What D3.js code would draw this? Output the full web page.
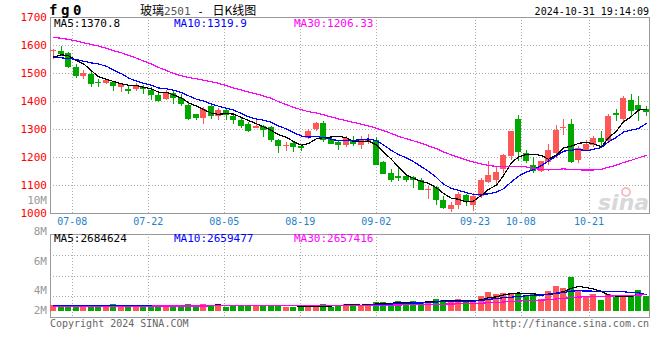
<!DOCTYPE html>
<html>
<head>
<meta charset="utf-8">
<script src="https://cdn.jsdelivr.net/npm/d3@7"></script>
<style>
  body { margin: 0; background: #fff; }
  text { font-family: "DejaVu Sans Mono", monospace; }
</style>
</head>
<body>
<div id="chart-container"></div>
<script>
const w = 660;
const h = 360;

const dates = [
  "07-03","07-04","07-05","07-08","07-09","07-10","07-11","07-12","07-15","07-16",
  "07-17","07-18","07-19","07-22","07-23","07-24","07-25","07-26","07-29","07-30",
  "07-31","08-01","08-02","08-05","08-06","08-07","08-08","08-09","08-12","08-13",
  "08-14","08-15","08-16","08-19","08-20","08-21","08-22","08-23","08-26","08-27",
  "08-28","08-29","08-30","09-02","09-03","09-04","09-05","09-06","09-09","09-10",
  "09-11","09-12","09-13","09-18","09-19","09-20","09-23","09-24","09-25","09-26",
  "09-27","09-30","10-08","10-09","10-10","10-11","10-14","10-15","10-16","10-17",
  "10-18","10-21","10-22","10-23","10-24","10-25","10-28","10-29","10-30","10-31"
];
const open = [
  1577,1580,1571,1521,1488,1497,1469,1466,1468,1450,
  1444,1443,1451,1438,1422,1408,1428,1411,1387,1354,
  1341,1381,1347,1369,1345,1331,1318,1302,1312,1306,
  1262,1238,1250,1238,1268,1301,1322,1264,1252,1244,
  1256,1243,1254,1262,1181,1144,1133,1133,1128,1119,
  1081,1094,1048,1014,1027,1064,1030,1062,1110,1119,
  1157,1202,1337,1213,1172,1151,1182,1214,1302,1319,
  1188,1226,1244,1268,1256,1357,1337,1405,1387,1372
];
const high = [
  1584,1595,1576,1532,1512,1504,1480,1479,1471,1466,
  1456,1466,1457,1449,1431,1438,1437,1426,1392,1355,
  1378,1384,1374,1372,1357,1338,1325,1339,1315,1310,
  1265,1255,1256,1248,1301,1324,1328,1274,1262,1275,
  1276,1276,1283,1270,1187,1158,1161,1136,1133,1126,
  1095,1097,1062,1038,1074,1069,1071,1126,1187,1165,
  1212,1292,1351,1226,1199,1184,1246,1315,1337,1337,
  1241,1262,1274,1294,1354,1371,1419,1426,1419,1383
];
const low = [
  1550,1562,1519,1481,1480,1451,1449,1459,1434,1431,
  1424,1434,1426,1405,1397,1405,1390,1383,1331,1333,
  1319,1337,1331,1331,1319,1304,1288,1302,1271,1252,
  1216,1220,1218,1220,1266,1292,1255,1246,1224,1234,
  1241,1230,1245,1172,1138,1109,1115,1109,1088,1082,
  1051,1027,1016,1002,1014,1024,1006,1054,1108,1105,
  1143,1190,1184,1179,1142,1146,1172,1198,1280,1178,
  1177,1220,1237,1234,1254,1330,1325,1348,1330,1348
];
const close = [
  1583,1569,1520,1491,1501,1459,1463,1474,1452,1459,
  1434,1458,1443,1422,1401,1431,1411,1388,1337,1341,
  1371,1345,1369,1350,1331,1309,1294,1309,1298,1262,
  1238,1243,1235,1232,1294,1322,1262,1248,1244,1268,
  1248,1264,1262,1173,1141,1119,1124,1119,1117,1083,
  1087,1045,1017,1029,1068,1038,1062,1118,1136,1145,
  1208,1292,1217,1184,1149,1184,1226,1295,1308,1182,
  1232,1246,1268,1252,1347,1349,1412,1364,1367,1362
];
const volume = [
  980000,700000,980000,980000,700000,980000,720000,750000,1150000,720000,
  700000,740000,700000,980000,720000,750000,700000,730000,1150000,700000,
  1150000,980000,980000,720000,980000,980000,740000,980000,980000,980000,
  960000,720000,700000,610000,720000,980000,1150000,700000,980000,1150000,
  980000,980000,1150000,1480000,1480000,1260000,1640000,1260000,1640000,1260000,
  1640000,1970000,1800000,1430000,1970000,1430000,1800000,2460000,3110000,2790000,
  2950000,2950000,2950000,2460000,2790000,1910000,3280000,4100000,3770000,5570000,
  3300000,2500000,2850000,1800000,2720000,2300000,2620000,2620000,3440000,2440000
];

const ma5Head = [1557, 1565, 1562, 1544];
const ma10Head = [1556, 1554, 1552, 1548, 1542, 1536, 1532, 1524, 1511];
const ma30Head = [
  1627,1624,1620,1614,1608,1602,1596,1588,1580,1572,
  1563,1553,1543,1532,1520,1509,1498,1490,1484,1479,
  1474,1469,1463,1455,1446,1439,1432,1425,1418
];
const vma5Head = [840000, 850000, 860000, 870000];
const vma10Head = [800000, 810000, 820000, 830000, 840000, 850000, 850000, 860000, 860000];
const vma30Head = [
  740000,745000,750000,755000,760000,765000,770000,775000,780000,785000,
  790000,795000,800000,800000,805000,810000,815000,820000,820000,825000,
  830000,835000,840000,840000,845000,850000,850000,855000,860000
];

const tickDates = ["07-08","07-22","08-05","08-19","09-02","09-23","10-08","10-21"];
const priceTicks = [1000,1100,1200,1300,1400,1500,1600,1700];
const volLabels = [10, 8, 6, 4, 2];
const maLast = ["1370.8", "1319.9", "1206.33"];
const volMaLast = ["2684624", "2659477", "2657416"];

const up = "#ff5656";
const down = "#00a800";
const maColors = ["#000000", "#0000ff", "#ff00ff"];

function movingAvg(values, n, head) {
  return values.map((v, i) => i < n - 1 ? head[i] : d3.mean(values.slice(i - n + 1, i + 1)));
}

const n = dates.length;
const priceMa = [
  movingAvg(close, 5, ma5Head),
  movingAvg(close, 10, ma10Head),
  movingAvg(close, 30, ma30Head)
];
const volMa = [
  movingAvg(volume, 5, vma5Head),
  movingAvg(volume, 10, vma10Head),
  movingAvg(volume, 30, vma30Head)
];

const svg = d3.select("#chart-container")
  .append("svg")
  .attr("width", w)
  .attr("height", h);

const x = d3.scaleBand()
  .domain(d3.range(n))
  .range([50, 650])
  .paddingInner(0.2)
  .paddingOuter(0.1);
// the date grid on the original runs on a slightly wider step than the candles
const xGrid = d3.scaleLinear().domain([0, n]).range([49.5, 657.5]);
const y = d3.scaleLinear().domain([1000, 1700]).range([213, 17]);
const yVol = d3.scaleLinear().domain([0, 12.6e6]).range([311, 234]);
const yVolLabel = d3.scaleLinear().domain([10, 8, 6, 4, 2]).range([200, 231, 261, 290, 310]);
const cx = (i) => Math.floor(x(i) + x.bandwidth() / 2) + 0.5;
const bw = Math.round(x.bandwidth());

// grid
const grid = svg.append("g")
  .attr("stroke", "#aaa")
  .attr("stroke-dasharray", "1,2")
  .attr("shape-rendering", "crispEdges");

grid.selectAll(".hp")
  .data(priceTicks.slice(1, -1))
  .join("line")
  .attr("x1", 50).attr("x2", 649)
  .attr("y1", (d) => Math.round(y(d)) + 0.5)
  .attr("y2", (d) => Math.round(y(d)) + 0.5);

const volGrid = d3.scaleLinear().domain([0, 4]).range([234, 317]);
grid.selectAll(".hv")
  .data([1, 2, 3])
  .join("line")
  .attr("x1", 50).attr("x2", 649)
  .attr("y1", (d) => Math.round(volGrid(d)) + 0.5)
  .attr("y2", (d) => Math.round(volGrid(d)) + 0.5);

const tickIdx = tickDates.map((d) => dates.indexOf(d));
[[17, 213], [234, 317]].forEach(([a, b]) => {
  grid.append("g").selectAll("line")
    .data(tickIdx)
    .join("line")
    .attr("x1", (d) => Math.round(xGrid(d)) + 0.5)
    .attr("x2", (d) => Math.round(xGrid(d)) + 0.5)
    .attr("y1", a).attr("y2", b);
});

// frames
const frame = svg.append("g")
  .attr("fill", "none")
  .attr("stroke", "#999")
  .attr("shape-rendering", "crispEdges");
frame.append("rect").attr("x", 50.5).attr("y", 17.5).attr("width", 599).attr("height", 196);
frame.append("rect").attr("x", 50.5).attr("y", 234.5).attr("width", 599).attr("height", 83);

// watermark
svg.append("text")
  .attr("x", 598).attr("y", 210)
  .style("font-family", "'DejaVu Sans', sans-serif")
  .style("font-size", "22px")
  .style("font-weight", "bold")
  .style("font-style", "italic")
  .attr("fill", "#d8d8d8")
  .text("sina");
svg.append("circle")
  .attr("cx", 626).attr("cy", 192).attr("r", 4)
  .attr("fill", "none").attr("stroke", "#f0c0c0").attr("stroke-width", 2);

// candles
const idx = d3.range(n);
const color = (i) => close[i] >= open[i] ? up : down;
const cg = svg.append("g").attr("shape-rendering", "crispEdges");

cg.selectAll("line")
  .data(idx)
  .join("line")
  .attr("x1", cx).attr("x2", cx)
  .attr("y1", (i) => y(high[i]))
  .attr("y2", (i) => y(low[i]))
  .attr("stroke", color);

cg.selectAll("rect")
  .data(idx)
  .join("rect")
  .attr("x", (i) => Math.floor(x(i)))
  .attr("width", bw)
  .attr("y", (i) => y(Math.max(open[i], close[i])))
  .attr("height", (i) => Math.max(1.5, Math.abs(y(open[i]) - y(close[i]))))
  .attr("fill", color);

// volume bars
svg.append("g").attr("shape-rendering", "crispEdges")
  .selectAll("rect")
  .data(idx)
  .join("rect")
  .attr("x", (i) => Math.floor(x(i)))
  .attr("width", bw)
  .attr("y", (i) => yVol(volume[i]))
  .attr("height", (i) => yVol(0) - yVol(volume[i]))
  .attr("fill", color);

// moving averages
const priceLine = d3.line().x((d, i) => cx(i)).y((d) => y(d));
const volLine = d3.line().x((d, i) => cx(i)).y((d) => yVol(d));
priceMa.forEach((s, k) => {
  svg.append("path").datum(s)
    .attr("d", priceLine)
    .attr("fill", "none")
    .attr("stroke", maColors[k])
    .attr("stroke-width", 1.2)
    .attr("shape-rendering", "crispEdges");
});
volMa.forEach((s, k) => {
  svg.append("path").datum(s)
    .attr("d", volLine)
    .attr("fill", "none")
    .attr("stroke", maColors[k])
    .attr("stroke-width", 1.2)
    .attr("shape-rendering", "crispEdges");
});

// axis labels
svg.append("g").selectAll("text")
  .data(priceTicks)
  .join("text")
  .attr("x", 47)
  .attr("y", (d) => y(d))
  .attr("dy", "0.35em")
  .attr("text-anchor", "end")
  .attr("fill", "#ff0000")
  .style("font-size", "11px")
  .text((d) => d);

svg.append("g").selectAll("text")
  .data(volLabels)
  .join("text")
  .attr("x", 47)
  .attr("y", (d) => yVolLabel(d))
  .attr("dy", "0.35em")
  .attr("text-anchor", "end")
  .attr("fill", "#999")
  .style("font-size", "11px")
  .text((d) => d + "M");

svg.append("g").selectAll("text")
  .data(tickIdx)
  .join("text")
  .attr("x", (d) => xGrid(d))
  .attr("y", 225)
  .attr("text-anchor", "middle")
  .attr("fill", "#1e82c8")
  .style("font-size", "10px")
  .text((d) => dates[d]);

// legends
const legendX = [54, 174, 294];
const names = ["MA5:", "MA10:", "MA30:"];
[[27, maLast], [242, volMaLast]].forEach(([ty, vals]) => {
  svg.append("g").selectAll("text")
    .data(vals)
    .join("text")
    .attr("x", (d, i) => legendX[i])
    .attr("y", ty)
    .attr("fill", (d, i) => maColors[i])
    .style("font-size", "11px")
    .text((d, i) => names[i] + d);
});

// titles
svg.append("text")
  .attr("x", 49).attr("y", 15)
  .style("font-size", "14px")
  .style("font-weight", "bold")
  .style("letter-spacing", "3.6px")
  .text("fg0");

const title = svg.append("text")
  .attr("x", 140).attr("y", 15)
  .style("font-family", "'Noto Sans CJK SC', sans-serif")
  .style("font-size", "12px")
  .attr("fill", "#000");
title.append("tspan").text("玻璃");
title.append("tspan").attr("fill", "#555").style("font-family", "'DejaVu Sans Mono', monospace").style("font-size", "11px").text("2501");
title.append("tspan").style("font-family", "'DejaVu Sans Mono', monospace").style("font-size", "11px").text(" - ");
title.append("tspan").attr("dx", 2).text("日K线图");

svg.append("text")
  .attr("x", 649).attr("y", 15)
  .attr("text-anchor", "end")
  .style("font-size", "10px")
  .text("2024-10-31 19:14:09");

svg.append("text")
  .attr("x", 50).attr("y", 327)
  .attr("fill", "#666")
  .style("font-size", "10px")
  .text("Copyright 2024 SINA.COM");

svg.append("text")
  .attr("x", 649).attr("y", 327)
  .attr("text-anchor", "end")
  .attr("fill", "#666")
  .style("font-size", "10px")
  .text("http://finance.sina.com.cn");
</script>
</body>
</html>
